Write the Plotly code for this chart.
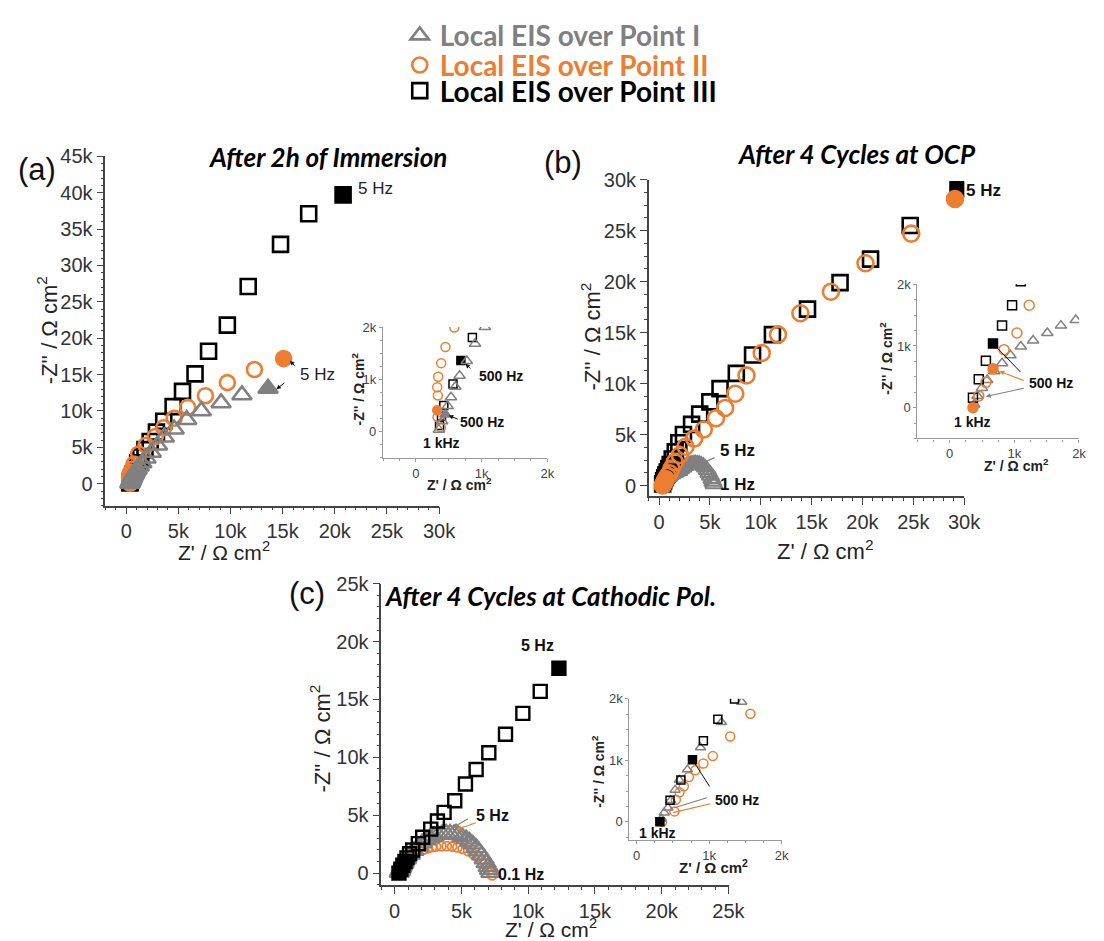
import plotly.graph_objects as go

W, H = 1104, 941
K = 1000.0

# ---------------- DATA (values read in k-ohm cm2) ----------------
# Panel (a): After 2h of Immersion
a_black_x = [0.36, 0.39, 0.425, 0.565, 0.685, 0.86, 1.1, 1.4, 1.8, 2.3, 2.9, 3.6, 4.5, 5.4, 6.6, 7.9, 9.7, 11.7, 14.8, 17.5, 20.8]
a_black_y = [0.12, 0.3, 0.5, 0.91, 1.36, 1.8, 2.9, 3.7, 4.7, 5.8, 7.1, 8.6, 10.6, 12.7, 15.1, 18.2, 21.8, 27.1, 32.9, 37.1, 39.7]
a_black_filled = [4, 20]
a_orange_x = [0.38, 0.33, 0.325, 0.335, 0.325, 0.34, 0.385, 0.45, 0.585, 0.75, 1.2, 1.9, 2.8, 3.6, 4.6, 5.9, 7.6, 9.7, 12.3, 15.1]
a_orange_y = [0.08, 0.28, 0.41, 0.69, 0.85, 1.05, 1.31, 1.62, 1.99, 2.7, 4.1, 5.3, 6.5, 7.7, 9.0, 10.5, 12.1, 13.9, 15.7, 17.2]
a_orange_filled = [2, 19]
a_grey_x = [0.35, 0.4, 0.45, 0.485, 0.535, 0.6, 0.665, 0.775, 0.9, 1.05, 1.25, 1.5, 1.9, 2.4, 3.0, 3.65, 4.6, 5.8, 7.2, 9.1, 11.1, 13.6]
a_grey_y = [0.04, 0.2, 0.33, 0.49, 0.66, 0.86, 1.07, 1.35, 1.68, 2.0, 2.4, 2.85, 3.5, 4.3, 5.3, 6.4, 7.5, 8.8, 10.0, 11.1, 12.2, 13.1]
a_grey_filled = [2, 21]

# Panel (b): After 4 Cycles at OCP
b_black_x = [0.36, 0.45, 0.56, 0.67, 0.81, 0.965, 1.1, 1.3, 1.6, 1.95, 2.4, 3.2, 4.0, 5.0, 6.0, 7.6, 9.2, 11.15, 14.6, 17.8, 20.8, 24.7, 29.4]
b_black_y = [0.16, 0.46, 0.76, 1.04, 1.33, 1.66, 2.05, 2.6, 3.3, 4.2, 5.0, 6.0, 7.0, 8.2, 9.5, 11.0, 12.8, 14.8, 17.3, 19.9, 22.2, 25.5, 29.0]
b_black_filled = [3, 22]
b_orange_x = [0.36, 0.45, 0.56, 0.67, 0.84, 1.04, 1.23, 1.55, 2.05, 2.6, 3.45, 4.4, 5.6, 6.5, 7.5, 8.6, 10.1, 11.7, 13.9, 16.9, 20.3, 24.8, 29.1]
b_orange_y = [0.0, 0.19, 0.41, 0.63, 0.94, 1.21, 1.66, 2.3, 3.0, 3.8, 4.6, 5.5, 6.6, 7.6, 9.0, 10.8, 13.0, 14.8, 16.9, 19.0, 21.8, 24.7, 28.1]
b_orange_filled = [0, 3, 22]
b_grey_x = [0.38, 0.43, 0.50, 0.58, 0.69, 0.81, 0.94, 1.10, 1.29, 1.51, 1.72, 1.95, 2.15, 2.35, 2.55, 2.75, 2.95, 3.15, 3.35,
            3.55, 3.75, 3.95, 4.15, 4.35, 4.55, 4.75, 4.9, 5.05, 5.2, 5.3, 5.4]
b_grey_y = [0.05, 0.19, 0.32, 0.45, 0.59, 0.72, 0.85, 0.99, 1.09, 1.21, 1.33, 1.42, 1.6, 1.75, 1.9, 2.0, 2.08, 2.13, 2.16,
            2.17, 2.16, 2.12, 2.05, 1.93, 1.75, 1.5, 1.22, 0.95, 0.62, 0.35, 0.1]

# Panel (c): After 4 Cycles at Cathodic Pol.
c_black_x = [0.32, 0.46, 0.61, 0.77, 0.92, 1.12, 1.35, 1.77, 2.1, 2.7, 3.2, 3.7, 4.5, 5.3, 6.1, 7.05, 8.3, 9.6, 10.9, 12.3]
c_black_y = [0.0, 0.35, 0.68, 1.01, 1.32, 1.67, 2.0, 2.55, 3.1, 3.8, 4.5, 5.25, 6.25, 7.7, 8.95, 10.4, 12.0, 13.8, 15.7, 17.7]
c_black_filled = [0, 3, 19]
c_grey_x = [0.34, 0.38, 0.43, 0.47, 0.53, 0.59, 0.70, 0.88, 1.17, 1.45, 1.75, 2.05, 2.35, 2.65, 2.95, 3.25, 3.55, 3.85,
            4.15, 4.45, 4.75, 5.05, 5.35, 5.6, 5.85, 6.1, 6.3, 6.5, 6.7, 6.85, 7.0, 7.1, 7.2]
c_grey_y = [0.05, 0.15, 0.23, 0.35, 0.52, 0.68, 0.85, 1.21, 1.62, 1.95, 2.3, 2.6, 2.85, 3.05, 3.2, 3.32, 3.4, 3.44,
            3.44, 3.4, 3.3, 3.15, 2.95, 2.75, 2.5, 2.2, 1.9, 1.55, 1.2, 0.88, 0.55, 0.3, 0.05]
c_orange_x = [0.35, 0.52, 0.54, 0.59, 0.65, 0.72, 0.81, 0.92, 1.05, 1.29, 1.57, 2.2, 2.5, 2.8, 3.1, 3.5, 3.9, 4.3, 4.7,
              5.1, 5.5, 5.85, 6.2, 6.5, 6.75, 6.95, 7.1, 7.2, 7.3]
c_orange_y = [0.0, 0.17, 0.36, 0.48, 0.58, 0.73, 0.84, 0.95, 1.07, 1.39, 1.76, 2.05, 2.15, 2.24, 2.3, 2.33, 2.33, 2.3, 2.22,
              2.1, 1.9, 1.68, 1.4, 1.1, 0.8, 0.5, 0.25, 0.02, -0.2]

legend_names = ["Local EIS over Point I", "Local EIS over Point II", "Local EIS over Point III"]
panel_titles = ["After 2h of Immersion", "After 4 Cycles at OCP", "After 4 Cycles at Cathodic Pol."]
panel_tags = ["(a)", "(b)", "(c)"]

GREY, ORANGE, BLACK = "#808080", "#ED7D31", "#000000"
SANS = "Liberation Sans, Arial, sans-serif"
CAL = "Lato, Open Sans, sans-serif"


def dx(a, b):
    return [a / W, b / W]


def dy(top, bottom):
    return [1 - bottom / H, 1 - top / H]


def P(px, py):
    return px / W, 1 - py / H


fig = go.Figure()
LEG = {0: "legend", 1: "legend2", 2: "legend3"}


def series(xs, ys, filled, ax, sym, color, size, lw, fsize, legend_idx=None):
    xr = [v * K for v in xs]
    yr = [v * K for v in ys]
    if legend_idx is not None:
        kw = dict(showlegend=True, legend=LEG[legend_idx],
                  name="<b><span style='color:%s'>%s</span></b>" % (color, legend_names[legend_idx]))
    else:
        kw = dict(showlegend=False)
    fig.add_trace(go.Scatter(
        x=xr, y=yr, mode="markers", xaxis=ax[0], yaxis=ax[1],
        marker=dict(symbol=sym + "-open", size=size, color=color, line=dict(width=lw, color=color)),
        hoverinfo="skip", **kw))
    if filled:
        fig.add_trace(go.Scatter(
            x=[xr[i] for i in filled], y=[yr[i] for i in filled], mode="markers", xaxis=ax[0], yaxis=ax[1],
            marker=dict(symbol=sym, size=fsize, color=color, line=dict(width=0)),
            showlegend=False, hoverinfo="skip"))


# panel (a) main + inset
for ax, big in ((("x", "y"), True), (("x2", "y2"), False)):
    series(a_black_x, a_black_y, a_black_filled, ax, "square", BLACK, 15 if big else 8, 2.6 if big else 1.5,
           15 if big else 8, 2 if big else None)
    series(a_orange_x, a_orange_y, a_orange_filled, ax, "circle", ORANGE, 15 if big else 9, 2.6 if big else 1.5,
           16 if big else 9, 1 if big else None)
    series(a_grey_x, a_grey_y, a_grey_filled, ax, "triangle-up", GREY, 17 if big else 10, 2.6 if big else 1.5,
           18 if big else 10, 0 if big else None)

# panel (b)
for ax, big in ((("x3", "y3"), True), (("x4", "y4"), False)):
    series(b_grey_x, b_grey_y, [], ax, "triangle-up", GREY, 15 if big else 10, 2.2 if big else 1.5, 15)
    series(b_black_x, b_black_y, b_black_filled, ax, "square", BLACK, 15 if big else 9, 2.6 if big else 1.5, 15 if big else 9)
    series(b_orange_x, b_orange_y, b_orange_filled, ax, "circle", ORANGE, 16 if big else 10, 2.6 if big else 1.5, 16 if big else 10)

# panel (c)
for ax, big in ((("x5", "y5"), True), (("x6", "y6"), False)):
    series(c_orange_x, c_orange_y, [], ax, "circle", ORANGE, 9, 1.8 if big else 1.5, 9)
    series(c_grey_x, c_grey_y, [], ax, "triangle-up", GREY, 17 if big else 9, 2.2 if big else 1.5, 17)
    series(c_black_x, c_black_y, c_black_filled, ax, "square", BLACK, 13 if big else 8, 2.4 if big else 1.5, 13 if big else 8)


def axis(dom, rng, dtick, minor, anchor, inset=False):
    lc = "#9a9a9a" if inset else "#444444"
    return dict(domain=dom, range=rng, anchor=anchor, showline=True, linecolor=lc, linewidth=1.2 if inset else 1.6,
                ticks="outside", ticklen=3 if inset else 7, tickwidth=1.2, tickcolor=lc, tick0=0, dtick=dtick,
                tickformat="~s", showgrid=False, zeroline=False, mirror=False, fixedrange=True,
                tickfont=dict(family=SANS, size=13 if inset else 20, color="#444444" if inset else "#333333"),
                minor=dict(ticks="outside", ticklen=2 if inset else 3, tickwidth=1, tickcolor=lc, dtick=minor, tick0=0,
                           showgrid=False))


fig.update_layout(
    xaxis=axis(dx(107, 446), [-2000, 30010], 5000, 1000, "y"),
    yaxis=axis(dy(147, 501), [-3000, 45020], 5000, 1000, "x"),
    xaxis2=axis(dx(389, 556), [-500, 2002], 1000, 250, "y2", True),
    yaxis2=axis(dy(320, 452.7), [-500, 2002], 1000, 250, "x2", True),
    xaxis3=axis(dx(659, 979.3), [-1000, 30010], 5000, 1000, "y3"),
    yaxis3=axis(dy(170.7, 491), [-1000, 30010], 5000, 1250, "x3"),
    xaxis4=axis(dx(931.7, 1096), [-500, 2002], 1000, 250, "y4", True),
    yaxis4=axis(dy(276.7, 433), [-500, 2002], 1000, 250, "x4", True),
    xaxis5=axis(dx(387.3, 740), [-1000, 25010], 5000, 1000, "y5"),
    yaxis5=axis(dy(580, 885), [-1000, 25010], 5000, 1000, "x5"),
    xaxis6=axis(dx(639.3, 794), [-100, 2002], 1000, 250, "y6", True),
    yaxis6=axis(dy(696.7, 840), [-300, 2002], 1000, 250, "x6", True),
)

ann = []


def ptext(px, py, text, size, family=SANS, color="#111", angle=0, bold=False, italic=False):
    x, y = P(px, py)
    t = text
    if bold:
        t = "<b>" + t + "</b>"
    if italic:
        t = "<i>" + t + "</i>"
    ann.append(dict(xref="paper", yref="paper", x=x, y=y, text=t, showarrow=False, textangle=angle,
                    font=dict(family=family, size=size, color=color), xanchor="center", yanchor="middle"))


def dtext(ax, xv, yv, text, size, bold=True, color="#111"):
    ann.append(dict(xref=ax[0], yref=ax[1], x=xv * K, y=yv * K, text=("<b>%s</b>" % text) if bold else text,
                    showarrow=False, font=dict(family=SANS, size=size, color=color), xanchor="center", yanchor="middle"))


def arrow(ax, tip, tail, color, head=2, standoff=0, width=1.2, size=0.9):
    ann.append(dict(xref=ax[0], yref=ax[1], axref=ax[0], ayref=ax[1], x=tip[0] * K, y=tip[1] * K,
                    ax=tail[0] * K, ay=tail[1] * K, text="", showarrow=True, arrowhead=head, arrowsize=size,
                    arrowwidth=width, arrowcolor=color, standoff=standoff))


# titles and panel tags
ptext(333, 148, panel_titles[0], 26, CAL, "#000", bold=True, italic=True)
ptext(870, 145, panel_titles[1], 26, CAL, "#000", bold=True, italic=True)
ptext(559, 593, panel_titles[2], 26, CAL, "#000", bold=True, italic=True)
ptext(38, 161, panel_tags[0], 31, SANS, "#111")
ptext(572, 153, panel_tags[1], 31, SANS, "#111")
ptext(312, 590, panel_tags[2], 31, SANS, "#111")

# main axis titles
YT = "-Z'' / \u03a9 cm<sup>2</sup>"
XT = "Z' / \u03a9 cm<sup>2</sup>"
ptext(48, 323, YT, 22, angle=-90, color="#222")
ptext(228, 547, XT, 21, color="#222")
ptext(600, 330, YT, 22, angle=-90, color="#222")
ptext(838, 546, XT, 22, color="#222")
ptext(325, 737, YT, 22, angle=-90, color="#222")
ptext(560, 929, XT, 21, color="#222")
# inset titles
ptext(364, 383, YT, 14, angle=-90, color="#222", bold=True)
ptext(467, 479, XT, 14, color="#222", bold=True)
ptext(899, 352, YT, 14, angle=-90, color="#222", bold=True)
ptext(1032, 460, XT, 14, color="#222", bold=True)
ptext(608, 770, YT, 14, angle=-90, color="#222", bold=True)
ptext(725, 867, XT, 15, color="#222", bold=True)

# panel (a) annotations
A, A2 = ("x", "y"), ("x2", "y2")
dtext(A, 23.9, 40.6, "5 Hz", 17, bold=False, color="#222")
dtext(A, 18.3, 15.0, "5 Hz", 17, bold=False, color="#222")
arrow(A, (a_orange_x[-1] + 0.6, a_orange_y[-1] - 0.3), (16.3, 16.0), "#111", head=2, width=1)
arrow(A, (a_grey_x[-1] + 0.8, a_grey_y[-1] - 0.1), (15.3, 14.0), "#111", head=2, width=1)
dtext(A2, 1.29, 1.06, "500 Hz", 14)
dtext(A2, 1.0, 0.18, "500 Hz", 14)
dtext(A2, 0.385, -0.21, "1 kHz", 14)
arrow(A2, (a_black_x[4] + 0.07, a_black_y[4] - 0.06), (0.85, 1.18), "#111", head=2, width=1)
arrow(A2, (a_grey_x[2] + 0.05, a_grey_y[2] - 0.02), (0.66, 0.23), "#111", head=2, width=1)

# panel (b) annotations
B, B2 = ("x3", "y3"), ("x4", "y4")
ptext(999, 182, "5 Hz", 17, bold=True)
dtext(B, 7.7, 3.45, "5 Hz", 17)
dtext(B, 7.7, 0.14, "1 Hz", 17)
arrow(B, (4.2, 2.17), (5.6, 2.8), GREY, head=2, width=1.2)
dtext(B2, 1.56, 0.4, "500 Hz", 14)
dtext(B2, 0.36, -0.24, "1 kHz", 14)
arrow(B2, (b_black_x[3], b_black_y[3]), (1.12, 0.55), "#111", head=0, width=1)
arrow(B2, (b_orange_x[3] + 0.1, b_orange_y[3] - 0.04), (1.17, 0.43), ORANGE, head=2, width=1.2, size=0.8)
arrow(B2, (0.56, 0.18), (1.17, 0.32), GREY, head=2, width=1.2, size=0.8)

# panel (c) annotations
C, C2 = ("x5", "y5"), ("x6", "y6")
dtext(C, 10.7, 19.7, "5 Hz", 16)
dtext(C, 7.36, 4.97, "5 Hz", 16)
dtext(C, 9.45, -0.15, "0.1 Hz", 16)
arrow(C, (4.35, 3.92), (5.6, 4.77), GREY, head=2, width=1.2)
arrow(C, (4.6, 3.75), (6.2, 4.4), ORANGE, head=2, width=1.2)
dtext(C2, 1.38, 0.36, "500 Hz", 14)
dtext(C2, 0.29, -0.18, "1 kHz", 14)
arrow(C2, (c_black_x[3], c_black_y[3]), (1.02, 0.55), "#111", head=0, width=1)
arrow(C2, (0.52, 0.23), (0.99, 0.4), GREY, head=0, width=1.2)
arrow(C2, (0.5, 0.15), (1.04, 0.3), ORANGE, head=0, width=1.2)


def leg(py):
    return dict(x=406 / W, y=1 - py / H, xanchor="left", yanchor="middle", font=dict(family=CAL, size=28),
                bgcolor="rgba(0,0,0,0)", itemsizing="trace", borderwidth=0)


fig.update_layout(
    annotations=ann,
    width=W, height=H, margin=dict(l=0, r=0, t=0, b=0),
    paper_bgcolor="white", plot_bgcolor="rgba(0,0,0,0)",
    showlegend=True,
    legend=leg(25), legend2=leg(55), legend3=leg(81),
)

fig.write_html("out.html", config={"displayModeBar": False},
               post_script="document.body.style.margin='0';document.body.style.padding='0';")
